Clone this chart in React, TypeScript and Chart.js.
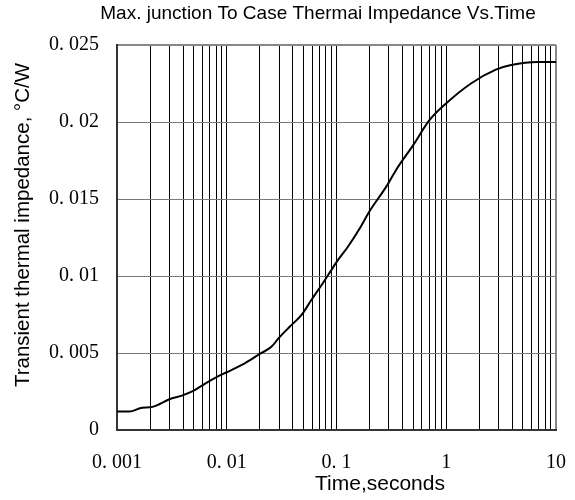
import React, { useEffect, useRef } from "react";
import { Chart, registerables } from "chart.js";

Chart.register(...registerables);

const times = [
  0.001, 0.0013, 0.0017, 0.002, 0.0023, 0.003, 0.0039, 0.005, 0.0063, 0.008,
  0.01, 0.0146, 0.02, 0.0255, 0.03, 0.0374, 0.048, 0.059, 0.075, 0.09, 0.1,
  0.127, 0.16, 0.2, 0.29, 0.35, 0.5, 0.7, 0.96, 1.68, 2.83, 3.9, 6.8, 10,
];
const impedance = [
  0.0012, 0.0012, 0.00145, 0.00147, 0.0016, 0.002, 0.00223, 0.00255, 0.003,
  0.00342, 0.00375, 0.00433, 0.00494, 0.0054, 0.006, 0.0067, 0.00747, 0.00844,
  0.00953, 0.0104, 0.0109, 0.0119, 0.013, 0.0142, 0.0159, 0.0169, 0.0185,
  0.0201, 0.0211, 0.0225, 0.0234, 0.0237, 0.0239, 0.0239,
];
const decades = [0.001, 0.01, 0.1, 1, 10];
const xTickLabels = ["0. 001", "0. 01", "0. 1", "1", "10"];
const yTickValues = [0, 0.005, 0.01, 0.015, 0.02, 0.025];
const yTickLabels = ["0", "0. 005", "0. 01", "0. 015", "0. 02", "0. 025"];

const chartTitle = "Max. junction To Case Thermai Impedance Vs.Time";
const xTitle = "Time,seconds";
const yTitle = "Transient thermal impedance, \u00b0C/W";

const PLOT = { left: 117, right: 556, top: 45, bottom: 430 };

export default function App() {
  const ref = useRef<HTMLCanvasElement | null>(null);

  useEffect(() => {
    if (!ref.current) return;
    const titlesPlugin = {
      id: "customTitles",
      afterDraw(chart: any) {
        const ctx = chart.ctx;
        ctx.save();
        ctx.fillStyle = "#000";
        ctx.textAlign = "center";
        ctx.textBaseline = "middle";
        ctx.font = "19px 'Liberation Sans', Arial, sans-serif";
        ctx.fillText(chartTitle, 318, 14);
        ctx.font = "21px 'Liberation Sans', Arial, sans-serif";
        ctx.fillText(xTitle, 380, 484);
        ctx.translate(23, 225);
        ctx.rotate(-Math.PI / 2);
        ctx.font = "20.5px 'Liberation Sans', Arial, sans-serif";
        ctx.fillText(yTitle, 0, 0);
        ctx.restore();
      },
    };

    const chart = new Chart(ref.current, {
      type: "line",
      data: {
        datasets: [
          {
            data: times.map((t, i) => ({ x: t, y: impedance[i] })),
            borderColor: "#000",
            borderWidth: 2,
            pointRadius: 0,
            fill: false,
            cubicInterpolationMode: "monotone",
          },
        ],
      },
      options: {
        responsive: false,
        animation: false,
        layout: {
          padding: {
            top: PLOT.top,
            right: 575 - PLOT.right,
            left: 0,
            bottom: 0,
          },
        },
        plugins: {
          legend: { display: false },
          title: { display: false },
          tooltip: { enabled: false },
        },
        scales: {
          x: {
            type: "logarithmic",
            min: 0.001,
            max: 10,
            afterFit(scale: any) {
              scale.height = 500 - PLOT.bottom;
              scale.paddingLeft = 0;
              scale.paddingRight = 0;
            },
            afterBuildTicks(scale: any) {
              const ticks: any[] = [];
              for (let d = 0; d < decades.length - 1; d++) {
                for (let k = 1; k <= 9; k++) {
                  ticks.push({ value: decades[d] * k, major: k === 1 });
                }
              }
              ticks.push({ value: decades[decades.length - 1], major: true });
              scale.ticks = ticks;
            },
            ticks: {
              autoSkip: false,
              maxRotation: 0,
              padding: 21,
              color: "#000",
              font: { family: "'Liberation Serif', serif", size: 20 },
              callback: (value: any) => {
                const idx = decades.findIndex(
                  (d) => Math.abs(d - Number(value)) / d < 1e-6
                );
                return idx >= 0 ? xTickLabels[idx] : "";
              },
            },
            grid: {
              drawTicks: false,
              color: (ctx: any) =>
                ctx.tick && Math.abs(ctx.tick.value - 10) < 1e-6 ? "#888" : "#000",
              lineWidth: (ctx: any) =>
                ctx.tick && Math.abs(ctx.tick.value - 10) < 1e-6 ? 2 : 1,
            },
            border: { color: "#333", width: 2 },
          },
          y: {
            min: 0,
            max: 0.025,
            afterFit(scale: any) {
              scale.width = PLOT.left;
              scale.paddingTop = 0;
              scale.paddingBottom = 0;
            },
            afterBuildTicks(scale: any) {
              scale.ticks = yTickValues.map((v) => ({ value: v }));
            },
            ticks: {
              padding: 18,
              color: "#000",
              font: { family: "'Liberation Serif', serif", size: 20 },
              callback: (_v: any, index: number) => yTickLabels[index],
            },
            grid: {
              drawTicks: false,
              color: (ctx: any) =>
                ctx.tick && Math.abs(ctx.tick.value - 0.025) < 1e-9 ? "#888" : "#777",
              lineWidth: (ctx: any) =>
                ctx.tick && Math.abs(ctx.tick.value - 0.025) < 1e-9 ? 2 : 1,
            },
            border: { color: "#333", width: 2 },
          },
        },
      },
      plugins: [titlesPlugin],
    } as any);

    return () => chart.destroy();
  }, []);

  return (
    <div
      style={{
        position: "absolute",
        left: 0,
        top: 0,
        width: 575,
        height: 500,
        background: "#fff",
      }}
    >
      <canvas ref={ref} width={575} height={500} />
    </div>
  );
}
